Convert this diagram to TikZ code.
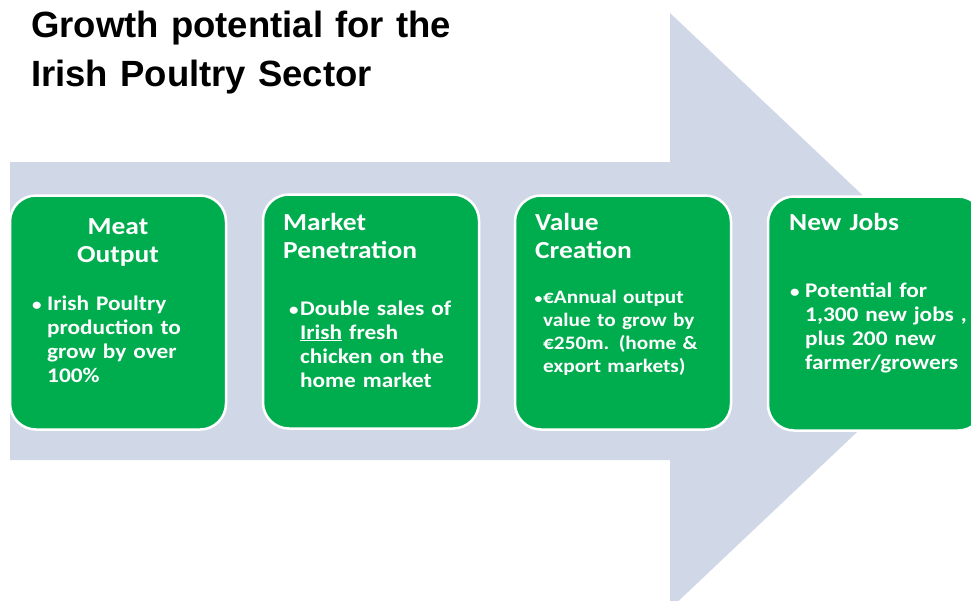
\documentclass[tikz,border=0pt]{standalone}
\usepackage{fontspec}
\setmainfont{Carlito}
\newfontfamily\boxfont[FakeStretch=1.12,WordSpace=0.8]{Carlito}
\newfontfamily\titlefont{Liberation Sans}
\definecolor{arrowfill}{HTML}{D0D8E8}
\definecolor{boxgreen}{HTML}{00AD4E}
\begin{document}
\begin{tikzpicture}[x=1pt,y=-1pt,
  greenbox/.style={draw=white, line width=2.5pt, fill=boxgreen, rounded corners=26pt,
    minimum width=216pt, minimum height=234pt, inner sep=0pt},
  headtxt/.style={inner sep=0pt, text=white, font=\boxfont\fontsize{24.5}{28}\selectfont\bfseries, text width=200pt, align=left, anchor=base west},
  headctr/.style={inner sep=0pt, text=white, font=\boxfont\fontsize{24.5}{28}\selectfont\bfseries, text width=180pt, align=center, anchor=base},
  bodytxt/.style={inner sep=0pt, text=white, font=\boxfont\fontsize{20.8}{24}\selectfont\bfseries, text width=190pt, align=left, anchor=base west},
  bodysmall/.style={inner sep=0pt, text=white, font=\boxfont\fontsize{19}{23.2}\selectfont\bfseries, text width=190pt, align=left, anchor=base west},
  bulletmark/.style={inner sep=0pt, text=white, font=\boxfont\fontsize{17}{24}\selectfont\bfseries, anchor=base west}
]
\clip (0,0) rectangle (971,600);
\fill[white] (0,0) rectangle (971,600);
% big arrow
\fill[arrowfill] (10,162) -- (670,162) -- (670,13) -- (985,311) -- (670,609) -- (670,460) -- (10,460) -- cycle;
% title
\node[inner sep=0pt, anchor=base west, text width=500pt, align=left,
  font=\titlefont\fontsize{36.5}{49}\selectfont\bfseries] (title) at (31,37)
  {Growth potential for the\\Irish Poultry Sector};
% boxes
\node[greenbox] (b1) at (118,312.5) {};
\node[greenbox] (b2) at (371,311.5) {};
\node[greenbox] (b3) at (623,312.5) {};
\node[greenbox] (b4) at (876,313.5) {};
% box 1
\node[headctr] (h1) at (118,234) {Meat\\Output};
\node[bulletmark] (p1) at (32,310) {•};
\node[bodytxt] (t1) at (47,310) {Irish Poultry\\production to\\grow by over\\100\%};
% box 2
\node[headtxt] (h2) at (283,230) {Market\\Penetration};
\node[bulletmark] (p2) at (289,315) {•};
\node[bodytxt] (t2) at (300,315) {Double sales of\\\underline{Irish} fresh\\chicken on the\\home market};
% box 3
\node[headtxt] (h3) at (535,230) {Value\\Creation};
\node[bulletmark, font=\boxfont\fontsize{14}{23}\selectfont\bfseries] (p3) at (534.5,303) {•};
\node[bodysmall] (t3) at (543,303) {€Annual output\\value to grow by\\€250m. (home \&\\export markets)};
% box 4
\node[headtxt] (h4) at (789,230) {New Jobs};
\node[bulletmark] (p4) at (790,297) {•};
\node[bodytxt] (t4) at (805,297) {Potential for\\1,300 new jobs ,\\plus 200 new\\farmer/growers};
\end{tikzpicture}
\end{document}
